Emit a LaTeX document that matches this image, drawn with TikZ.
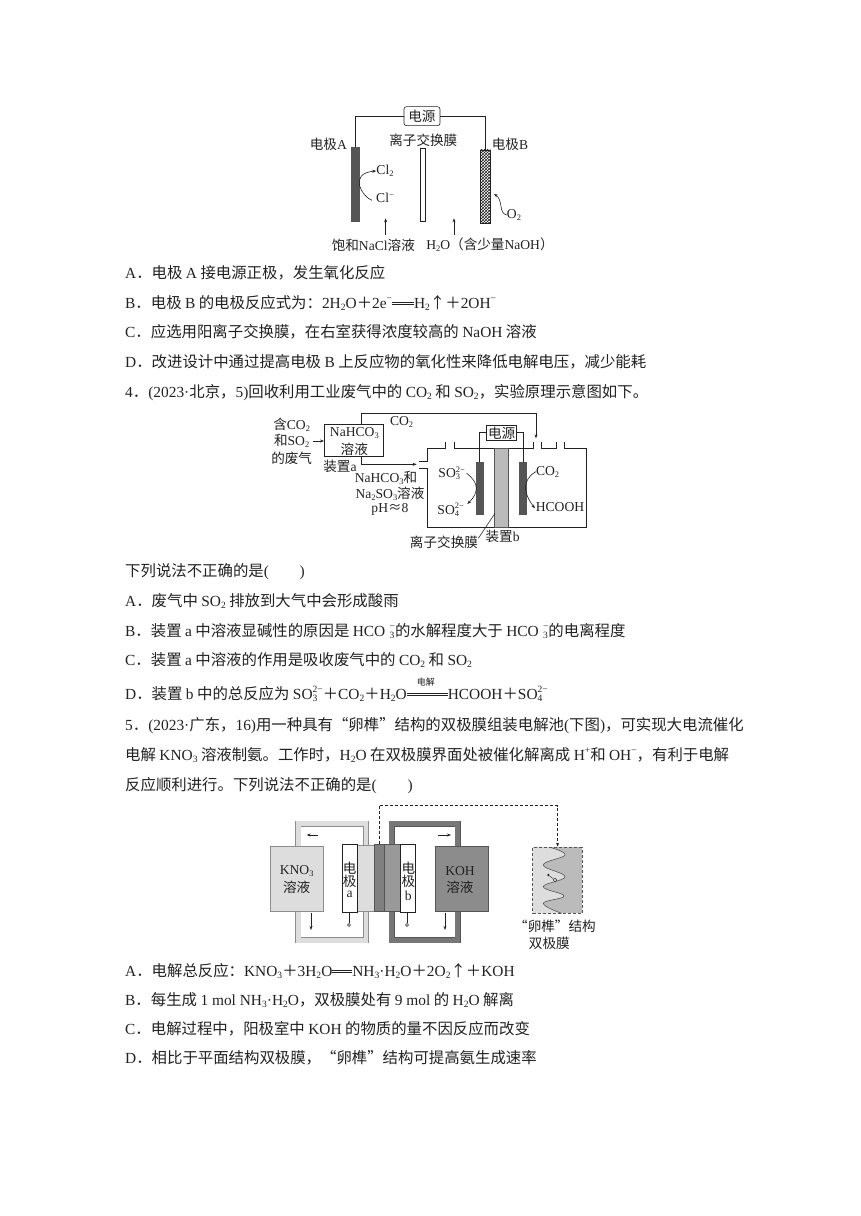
\documentclass[tikz,border=0pt]{standalone}
\usepackage{fontspec}
\setmainfont{Noto Sans CJK SC}
\newfontfamily\latfont{Liberation Serif}
\usetikzlibrary{arrows.meta,fit,patterns}
\newcommand\lat[1]{{\latfont #1}}
\newcommand\sbs[1]{\raisebox{-.28ex}{\scalebox{.62}{\latfont #1}}}
\newcommand\sps[1]{\raisebox{.75ex}{\scalebox{.62}{\latfont #1}}}
\newcommand\sbsp[2]{\rlap{\sbs{#1}}\sps{#2}}
\newcommand\dbl[1]{\rlap{\rule[.22em]{#1}{.5pt}}\rule[.36em]{#1}{.5pt}}
\definecolor{ink}{HTML}{222222}
\definecolor{dk}{HTML}{555555}
\definecolor{lt}{HTML}{DDDDDD}
\definecolor{mid}{HTML}{8C8C8C}
\definecolor{memb}{HTML}{BBBBBB}
\tikzset{
 ln/.style={anchor=base west,inner sep=0pt,text=ink,font=\fontsize{15.4}{15.4}\selectfont},
 lb/.style={inner sep=0pt,text=ink,font=\fontsize{13.6}{13.6}\selectfont},
 bx/.style={fit={#1},inner sep=0pt,draw=ink,line width=.6pt},
 wire/.style={draw=ink,line width=.6pt},
 arr/.style={draw=ink,line width=.6pt,-{Stealth[length=4pt,width=3pt]}},
 zoomA/.style={shift={#1},x=.3333pt,y=-.3333pt}
}
\begin{document}
\begin{tikzpicture}[x=1pt,y=-1pt]
\useasboundingbox[fill=white] (0,0) rectangle (860,1216);

% body text
\node[ln] (t1) at (125,278) {\lat{A}．电极 \lat{A} 接电源正极，发生氧化反应};
\node[ln] (t2) at (125,308) {\lat{B}．电极 \lat{B} 的电极反应式为：\lat{2H}\sbs{2}\lat{O}＋\lat{2e}\sps{−}\dbl{22pt}\lat{H}\sbs{2}↑＋\lat{2OH}\sps{−}};
\node[ln] (t3) at (125,337) {\lat{C}．应选用阳离子交换膜，在右室获得浓度较高的 \lat{NaOH} 溶液};
\node[ln] (t4) at (125,367) {\lat{D}．改进设计中通过提高电极 \lat{B} 上反应物的氧化性来降低电解电压，减少能耗};
\node[ln] (t5) at (125,397) {\lat{4}．\lat{(2023·}北京，\lat{5)}回收利用工业废气中的 \lat{CO}\sbs{2} 和 \lat{SO}\sbs{2}，实验原理示意图如下。};
\node[ln] (t6) at (125,576) {下列说法不正确的是\lat{(\hspace{2em})}};
\node[ln] (t7) at (125,606) {\lat{A}．废气中 \lat{SO}\sbs{2} 排放到大气中会形成酸雨};
\node[ln] (t8) at (125,636) {\lat{B}．装置 \lat{a} 中溶液显碱性的原因是 \lat{HCO}\;\sbsp{3}{−}的水解程度大于 \lat{HCO}\;\sbsp{3}{−}的电离程度};
\node[ln] (t9) at (125,665) {\lat{C}．装置 \lat{a} 中溶液的作用是吸收废气中的 \lat{CO}\sbs{2} 和 \lat{SO}\sbs{2}};
\node[ln] (t10) at (125,699) {\lat{D}．装置 \lat{b} 中的总反应为 \lat{SO}\sbsp{3}{2−}＋\lat{CO}\sbs{2}＋\lat{H}\sbs{2}\lat{O}\rlap{\raisebox{.85em}{\hspace{10pt}\fontsize{9}{9}\selectfont 电解}}\dbl{41pt}\lat{HCOOH}＋\lat{SO}\sbsp{4}{2−}};
\node[ln] (t11) at (125,730) {\lat{5}．\lat{(2023·}广东，\lat{16)}用一种具有“卵榫”结构的双极膜组装电解池\lat{(}下图\lat{)}，可实现大电流催化};
\node[ln] (t12) at (125,760) {电解 \lat{KNO}\sbs{3} 溶液制氨。工作时，\lat{H}\sbs{2}\lat{O} 在双极膜界面处被催化解离成 \lat{H}\sps{+}和 \lat{OH}\sps{−}，有利于电解};
\node[ln] (t13) at (125,790) {反应顺利进行。下列说法不正确的是\lat{(\hspace{2em})}};
\node[ln] (t14) at (125,976) {\lat{A}．电解总反应：\lat{KNO}\sbs{3}＋\lat{3H}\sbs{2}\lat{O}\dbl{20pt}\lat{NH}\sbs{3}\lat{·H}\sbs{2}\lat{O}＋\lat{2O}\sbs{2}↑＋\lat{KOH}};
\node[ln] (t15) at (125,1005) {\lat{B}．每生成 \lat{1 mol NH}\sbs{3}\lat{·H}\sbs{2}\lat{O}，双极膜处有 \lat{9 mol} 的 \lat{H}\sbs{2}\lat{O} 解离};
\node[ln] (t16) at (125,1034) {\lat{C}．电解过程中，阳极室中 \lat{KOH} 的物质的量不因反应而改变};
\node[ln] (t17) at (125,1063) {\lat{D}．相比于平面结构双极膜，“卵榫”结构可提高氨生成速率};

% figure 1
\begin{scope}[zoomA={(290,95)}]
\node[bx={(342,35)(450,92)},rounded corners=2.5pt] (p1) {};
\node[lb] at (396,63) {电源};
\node[bx={(185,157)(207,380)},fill=dk,draw=dk] (ea) {};
\node[bx={(390,160)(407,380)},fill=white] (m1) {};
\node[bx={(571,165)(601,385)},pattern=crosshatch,pattern color=ink] (eb) {};
\draw[wire] (p1.west) -| (ea.north);
\draw[wire] (p1.east) -| (eb.north);
\node[lb] (la) at (115,148) {电极\lat{A}};
\node[lb] (lm) at (400,135) {离子交换膜};
\node[lb] (lbb) at (660,148) {电极\lat{B}};
\node[lb] (cl2) at (285,228) {\lat{Cl}\sbs{2}};
\node[lb] (clm) at (285,310) {\lat{Cl}\sps{−}};
\node[lb] (o2) at (672,360) {\lat{O}\sbs{2}};
\draw[arr] (clm.west) ++(-12,6) .. controls (215,305) and (175,235) .. (cl2.west);
\draw[arr] (o2.west) .. controls (625,355) and (640,315) .. (612,297);
\coordinate (u1a) at (287,420); \coordinate (u1b) at (287,370);
\coordinate (u2a) at (492,420); \coordinate (u2b) at (492,370);
\draw[arr] (u1a) -- (u1b);
\draw[arr] (u2a) -- (u2b);
\node[lb] (s1) at (250,450) {饱和\lat{NaCl}溶液};
\node[lb] (s2) at (600,450) {\lat{H}\sbs{2}\lat{O}（含少量\lat{NaOH}）};
\end{scope}

% figure 2
\begin{scope}[zoomA={(260,405)}]
\node[lb] (g1) at (95,58) {含\lat{CO}\sbs{2}};
\node[lb] (g2) at (95,108) {和\lat{SO}\sbs{2}};
\node[lb] (g3) at (95,160) {的废气};
\node[bx={(193,58)(370,155)}] (na) {};
\node[lb] at (283,85) {\lat{NaHCO}\sbs{3}};
\node[lb] at (283,133) {溶液};
\draw[arr] (g2.east) ++(10,0) -- (na.west |- g2.east);
\node[lb] at (240,183) {装置\lat{a}};
\node[lb] at (425,50) {\lat{CO}\sbs{2}};
\coordinate (co) at (828,100);
\coordinate (nt) at (303,58);
\coordinate (nb) at (303,155);
\coordinate (in) at (470,178);
\draw[arr] (nt) -- (303,25) -| (co);
\draw[arr] (nb) |- (in);
\draw[wire] (557,110) -- (557,130) -- (502,130) -- (502,168) -- (478,168);
\draw[wire] (478,190) -- (502,190) -- (502,368) -- (980,368) -- (980,130) -- (913,130) -- (913,110);
\draw[wire] (890,110) -- (890,130) -- (843,130) -- (843,110);
\draw[wire] (583,110) -- (583,130) -- (820,130) -- (820,110);
\node[bx={(702,130)(746,368)},fill=memb,draw=dk] (m2) {};
\node[bx={(648,173)(669,327)},fill=dk,draw=dk] (e1) {};
\node[bx={(778,173)(799,327)},fill=dk,draw=dk] (e2) {};
\node[bx={(680,60)(770,105)},fill=white] (p2) {};
\node[lb] at (725,85) {电源};
\draw[wire] (p2.west) -| (e1.north);
\draw[wire] (p2.east) -| (e2.north);
\node[lb] (so3) at (575,205) {\lat{SO}\sbsp{3}{2−}};
\node[lb] (so4) at (572,315) {\lat{SO}\sbsp{4}{2−}};
\node[lb] (c2) at (863,200) {\lat{CO}\sbs{2}};
\node[lb] (hc) at (900,307) {\lat{HCOOH}};
\draw[arr] (620,205) .. controls (660,235) and (655,265) .. (622,297);
\draw[arr] (c2.west) .. controls (785,225) and (790,265) .. (825,310);
\node[lb] at (378,218) {\lat{NaHCO}\sbs{3}和};
\node[lb] at (390,265) {\lat{Na}\sbs{2}\lat{SO}\sbs{3}溶液};
\node[lb] at (390,312) {\lat{pH}≈\lat{8}};
\node[lb] (mm) at (552,413) {离子交换膜};
\node[lb] at (728,393) {装置\lat{b}};
\coordinate (mp) at (705,325);
\draw[wire] (mp) -- (655,400);
\end{scope}

% figure 3
\begin{scope}[zoomA={(260,800)}]
\foreach \w/\c in {6/mid,4.6/lt}{
\draw[line width=\w pt,draw=\c] (115,140) -- (115,71) -- (318,71) -- (318,135);
\draw[line width=\w pt,draw=\c] (115,333) -- (115,421) -- (318,421) -- (318,335);}
\foreach \w/\c in {6/dk,4.6/mid!85!black}{
\draw[line width=\w pt,draw=\c] (395,135) -- (395,71) -- (593,71) -- (593,140);
\draw[line width=\w pt,draw=\c] (395,335) -- (395,421) -- (593,421) -- (593,333);}
\node[bx={(30,138)(190,335)},fill=lt,draw=mid] (kn) {};
\node[bx={(525,138)(685,335)},fill=mid,draw=dk] (ko) {};
\node[bx={(292,135)(343,335)},fill=lt,draw=mid] (c1) {};
\node[bx={(343,133)(373,333)},fill=black!50,draw=dk] (d1) {};
\node[bx={(373,133)(422,335)},fill=black!40,draw=dk] (d2) {};
\node[bx={(247,133)(292,337)},fill=white] (ela) {};
\node[bx={(422,133)(467,337)},fill=white] (elb) {};
\node[lb] at (110,212) {\lat{KNO}\sbs{3}};
\node[lb] at (110,262) {溶液};
\node[lb] at (600,212) {\lat{KOH}};
\node[lb] at (600,262) {溶液};
\node[lb] at (269,205) {电};
\node[lb] at (269,245) {极};
\node[lb] at (269,283) {\lat{a}};
\node[lb] at (445,205) {电};
\node[lb] at (445,245) {极};
\node[lb] at (445,288) {\lat{b}};
\node[circle,draw=ink,fill=white,inner sep=0pt,minimum size=3pt,line width=.5pt] (ta) at (267,375) {};
\node[circle,draw=ink,fill=white,inner sep=0pt,minimum size=3pt,line width=.5pt] (tb) at (441,375) {};
\draw[wire] (ela.south -| ta) -- (ta);
\draw[wire] (elb.south -| tb) -- (tb);
\coordinate (a1) at (175,105); \coordinate (a2) at (140,105);
\coordinate (a3) at (533,105); \coordinate (a4) at (573,105);
\coordinate (a5) at (153,338); \coordinate (a6) at (153,390);
\coordinate (a7) at (555,338); \coordinate (a8) at (555,390);
\draw[arr] (a1) -- (a2);
\draw[arr] (a3) -- (a4);
\draw[arr] (a5) -- (a6);
\draw[arr] (a7) -- (a8);
\fill[memb] (818,142) rectangle (966,340);
\fill[lt] (818,142) -- plot[smooth,tension=.7] coordinates {(870,142) (915,165) (850,195) (915,230) (850,260) (912,288) (850,310) (905,340)} -- (818,340) -- cycle;
\draw[draw=dk,line width=.6pt] plot[smooth,tension=.7] coordinates {(870,142) (915,165) (850,195) (915,230) (850,260) (912,288) (850,310) (905,340)};
\node[bx={(818,142)(966,340)},densely dashed,draw=dk] (bm) {};
\node[circle,fill=ink,inner sep=0pt,minimum size=2.5pt] (dot) at (865,225) {};
\node[circle,draw=ink,fill=white,inner sep=0pt,minimum size=3.5pt,line width=.5pt] (op) at (885,240) {};
\draw[draw=ink,line width=.4pt] (dot) -- (op);
\coordinate (dsrc) at (357,133);
\coordinate (dtip) at (893,140);
\draw[arr,densely dashed] (dsrc) -- (357,17) -| (dtip);
\node[lb] at (885,380) {“卵榫”结构};
\node[lb] at (868,430) {双极膜};
\end{scope}
\end{tikzpicture}
\end{document}
